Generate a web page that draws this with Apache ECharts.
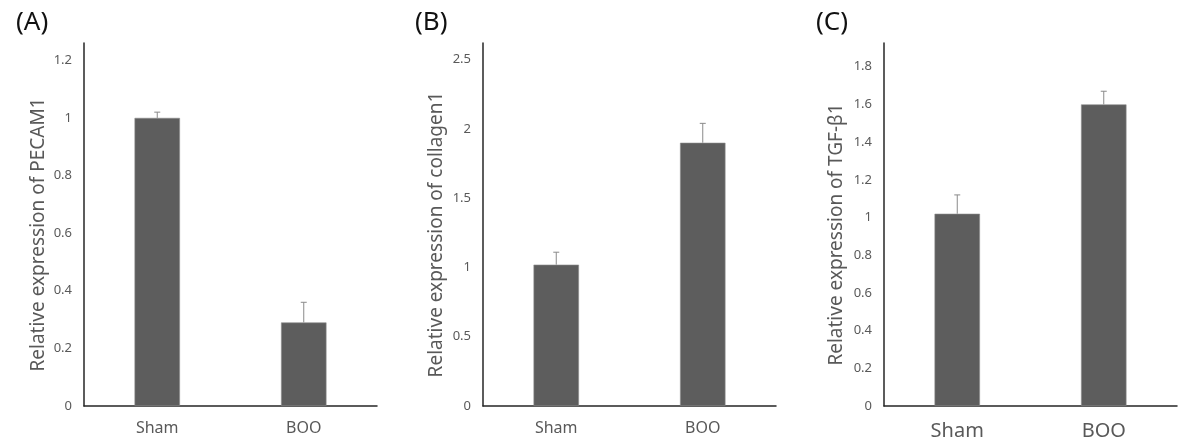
<!DOCTYPE html>
<html>
<head>
<meta charset="utf-8">
<script src="https://cdn.jsdelivr.net/npm/echarts@6/dist/echarts.min.js"></script>
<style>
  html, body { margin: 0; padding: 0; background: #fff; }
  #chart { width: 1184px; height: 444px; }
</style>
</head>
<body>
<div id="chart"></div>
<script>
const groups = ['Sham', 'BOO']

// (A) PECAM1
const pecamMean = [1.0, 0.29]
const pecamErr = [0.02, 0.07]
// (B) collagen1
const collagenMean = [1.02, 1.90]
const collagenErr = [0.09, 0.14]
// (C) TGF-β1
const tgfMean = [1.02, 1.60]
const tgfErr = [0.10, 0.07]

const panels = [
  { tag: '(A)', name: 'Relative expression of PECAM1', mean: pecamMean, err: pecamErr,
    left: 84, tagLeft: 11, max: 1.26, step: 0.2, catSize: 16, nameGap: 36 },
  { tag: '(B)', name: 'Relative expression of collagen1', mean: collagenMean, err: collagenErr,
    left: 483, tagLeft: 410, max: 2.62, step: 0.5, catSize: 16, nameGap: 37 },
  { tag: '(C)', name: 'Relative expression of TGF-β1', mean: tgfMean, err: tgfErr,
    left: 884, tagLeft: 811, max: 1.926, step: 0.2, catSize: 20, nameGap: 38 }
]

const font = '"Noto Sans", "Open Sans", sans-serif'
const axisColor = '#262626'
const textGray = '#595959'
const barColor = '#5d5d5d'

const chart = echarts.init(document.getElementById('chart'))

// upper half of the error bar with a small cap
const errorBar = (params, api) => {
  const x = api.value(0)
  const base = api.coord([x, api.value(1)])
  const top = api.coord([x, api.value(1) + api.value(2)])
  const style = { stroke: '#8a8a8a', lineWidth: 1 }
  return {
    type: 'group',
    children: [
      { type: 'line', shape: { x1: base[0], y1: base[1], x2: top[0], y2: top[1] }, style },
      { type: 'line', shape: { x1: top[0] - 3, y1: top[1], x2: top[0] + 3, y2: top[1] }, style }
    ]
  }
}

chart.setOption({
  animation: false,
  backgroundColor: '#fff',
  title: panels.map(p => ({
    text: p.tag,
    left: p.tagLeft,
    top: 5,
    textStyle: { fontFamily: font, fontSize: 26, fontWeight: 'normal', color: '#111' }
  })),
  grid: panels.map(p => ({ left: p.left, width: 293, top: 43, height: 363 })),
  xAxis: panels.map((p, i) => ({
    type: 'category',
    gridIndex: i,
    data: groups,
    axisTick: { show: false },
    axisLine: { lineStyle: { color: axisColor, width: 1.5 } },
    axisLabel: { color: textGray, fontFamily: font, fontSize: p.catSize, margin: p.catSize === 20 ? 15 : 14 }
  })),
  yAxis: panels.map((p, i) => ({
    type: 'value',
    gridIndex: i,
    min: 0,
    max: p.max,
    interval: p.step,
    name: p.name,
    nameLocation: 'middle',
    nameGap: p.nameGap,
    nameTextStyle: { color: textGray, fontFamily: font, fontSize: 19, padding: [0, 20, 0, 0] },
    axisLine: { show: true, lineStyle: { color: axisColor, width: 1.5 } },
    axisTick: { show: false },
    splitLine: { show: false },
    axisLabel: {
      color: textGray,
      fontFamily: font,
      fontSize: 13,
      margin: 12,
      showMaxLabel: false,
      formatter: v => Math.abs(v / p.step - Math.round(v / p.step)) < 1e-6 ? String(+v.toFixed(1)) : ''
    }
  })),
  series: panels.flatMap((p, i) => [
    {
      type: 'bar',
      xAxisIndex: i,
      yAxisIndex: i,
      data: p.mean,
      barWidth: '31%',
      itemStyle: { color: barColor, borderColor: '#8c8c8c', borderWidth: 0.6 }
    },
    {
      type: 'custom',
      xAxisIndex: i,
      yAxisIndex: i,
      z: 5,
      data: p.mean.map((m, k) => [k, m, p.err[k]]),
      renderItem: errorBar
    }
  ])
})
</script>
</body>
</html>
